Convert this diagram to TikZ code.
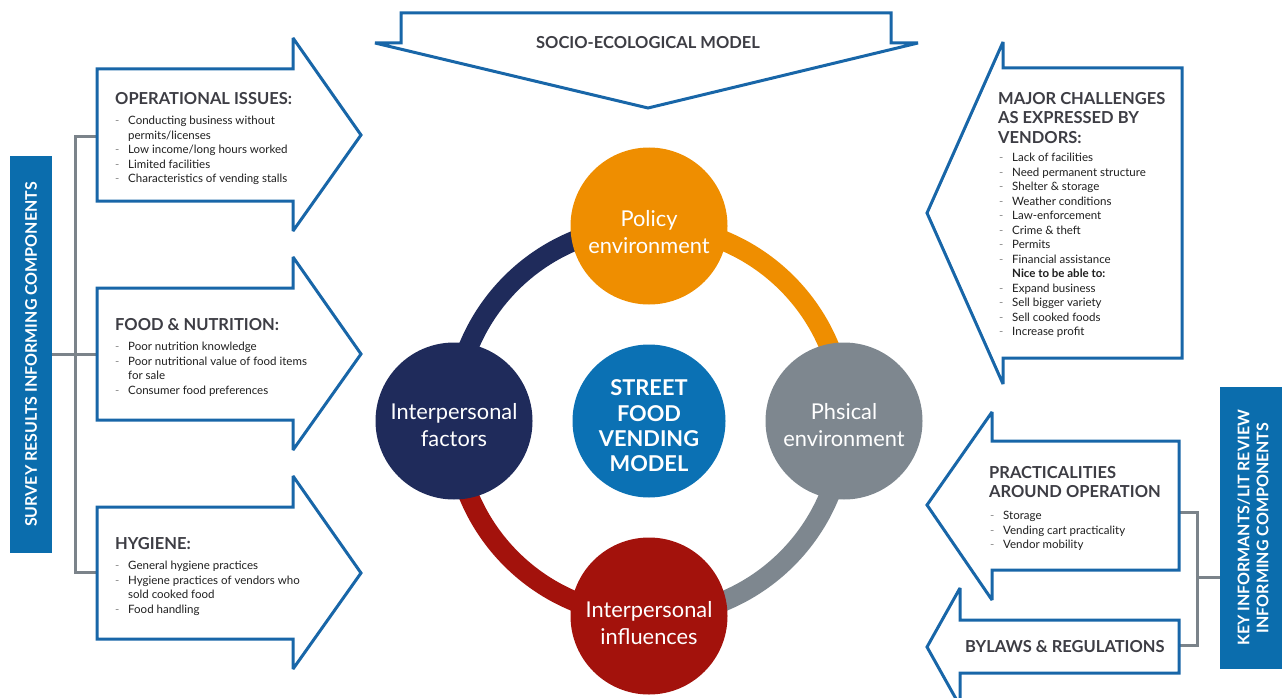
\documentclass[tikz,border=0pt]{standalone}
\usepackage{fontspec}
\setmainfont{Lato}

\definecolor{frameblue}{HTML}{1866A8}
\definecolor{barblue}{HTML}{0B6DAD}
\definecolor{hubblue}{HTML}{0B71B4}
\definecolor{policyorange}{HTML}{EF8E00}
\definecolor{factorsnavy}{HTML}{1F2B5B}
\definecolor{physgray}{HTML}{7E878F}
\definecolor{influred}{HTML}{A3120C}
\definecolor{inkgray}{HTML}{3D3D44}
\definecolor{linkgray}{HTML}{7B838A}

% list lines: a dash, then the text column
\newcommand\vitem{\makebox[13pt][l]{\textcolor{black!45}{-}}}
\newcommand\vcont{\hspace*{13pt}}

\begin{document}
\begin{tikzpicture}[
  x=1pt, y=-1pt,
  callout/.style={draw=frameblue, line width=3pt, fill=white, line join=miter, miter limit=3},
  heading/.style={anchor=north west, inner sep=0, text=inkgray, align=left,
    font=\fontsize{16.5}{19.5}\selectfont\bfseries},
  items/.style={anchor=north west, inner sep=0, text=black!88, align=left,
    font=\fontsize{11.5}{14.5}\selectfont},
  sphere/.style={circle, minimum size=157, inner sep=0},
  spheretext/.style={text=white, align=center, inner sep=0,
    font=\fontsize{21.8}{27}\selectfont},
  ring/.style={line width=20pt},
  bracket/.style={draw=linkgray, line width=3pt},
  sidebar/.style={rotate=90, fill=barblue, text=white, inner sep=0, align=center,
    font=\fontsize{16}{19}\selectfont\bfseries}
]
  \useasboundingbox (0,0) rectangle (1282,698);

  % Side bars
  \node[sidebar, minimum width=397, minimum height=42] (survey) at (31,354.5)
    {SURVEY RESULTS INFORMING COMPONENTS};
  \node[sidebar, minimum width=282, minimum height=66] (keyinf) at (1253,528)
    {KEY INFORMANTS/LIT REVIEW\\INFORMING COMPONENTS};

  % Left bracket: survey bar to the three arrows
  \coordinate (opsIn) at (97,137);
  \coordinate (nutIn) at (97,354);
  \coordinate (hygIn) at (97,572);
  \draw[bracket] (opsIn) -- (75,137) -- (75,572) -- (hygIn);
  \draw[bracket] (survey.south |- nutIn) -- (nutIn);

  % Right bracket: key informants bar to the two arrows
  \coordinate (pracOut) at (1179,512);
  \coordinate (lawOut) at (1179,645);
  \coordinate (rfork) at (1197,577);
  \draw[bracket] (pracOut) -- (pracOut -| rfork) -- (lawOut -| rfork) -- (lawOut);
  \draw[bracket] (rfork) -- (rfork -| keyinf.north);

  % Top arrow, pointing down into the model
  \draw[callout] (401,13) -- (891,13) -- (891,43) -- (918,43) -- (648,108)
    -- (375,43) -- (401,43) -- cycle;
  \node[text=inkgray, font=\fontsize{16.5}{18}\selectfont\bfseries] (sem) at (648,43)
    {SOCIO-ECOLOGICAL MODEL};

  % Left arrows (same shape, stacked)
  \foreach \dy in {0,219,438}{
    \begin{scope}[shift={(0,\dy)}]
      \draw[callout] (97,69) -- (293,69) -- (293,38) -- (361,135) -- (293,231)
        -- (293,201) -- (97,201) -- cycle;
    \end{scope}
  }

  \node[heading] (opsT) at (115,92) {OPERATIONAL ISSUES:};
  \node[items] (opsL) at (115,116) {\vitem Conducting business without\\
    \vcont permits/licenses\\
    \vitem Low income/long hours worked\\
    \vitem Limited facilities\\
    \vitem Characteristics of vending stalls};

  \node[heading] (nutT) at (115,318) {FOOD \& NUTRITION:};
  \node[items] (nutL) at (115,342) {\vitem Poor nutrition knowledge\\
    \vitem Poor nutritional value of food items\\
    \vcont for sale\\
    \vitem Consumer food preferences};

  \node[heading] (hygT) at (115,537) {HYGIENE:};
  \node[items] (hygL) at (115,561) {\vitem General hygiene practices\\
    \vitem Hygiene practices of vendors who\\
    \vcont sold cooked food\\
    \vitem Food handling};

  % Right arrows, pointing back to the model
  \draw[callout] (1182,68) -- (1003,68) -- (1003,42) -- (927,213) -- (1003,384)
    -- (1003,358) -- (1182,358) -- cycle;
  \draw[callout] (1179,441) -- (992,441) -- (992,412) -- (927,505) -- (992,600)
    -- (992,570) -- (1179,570) -- cycle;
  \draw[callout] (1179,620) -- (960,620) -- (960,588) -- (927,647) -- (960,706)
    -- (960,673) -- (1179,673) -- cycle;

  \node[heading] (chalT) at (998,92) {MAJOR CHALLENGES\\AS EXPRESSED BY\\VENDORS:};
  \node[items] (chalL) at (999,153) {\vitem Lack of facilities\\
    \vitem Need permanent structure\\
    \vitem Shelter \& storage\\
    \vitem Weather conditions\\
    \vitem Law-enforcement\\
    \vitem Crime \& theft\\
    \vitem Permits\\
    \vitem Financial assistance\\
    \vcont\textbf{Nice to be able to:}\\
    \vitem Expand business\\
    \vitem Sell bigger variety\\
    \vitem Sell cooked foods\\
    \vitem Increase profit};

  \node[heading] (pracT) at (989,466) {PRACTICALITIES\\AROUND OPERATION};
  \node[items] (pracL) at (990,511) {\vitem Storage\\
    \vitem Vending cart practicality\\
    \vitem Vendor mobility};

  \node[heading, anchor=west] (lawT) at (965,647) {BYLAWS \& REGULATIONS};

  % Ring around the hub, one colour per quarter
  \coordinate (hub) at (649,421);
  \coordinate (pol) at (649,226);
  \coordinate (fac) at (454,421);
  \coordinate (phy) at (844,421);
  \coordinate (inf) at (649,616);
  \draw[ring, factorsnavy] (fac) arc[start angle=180, end angle=270, radius=195];
  \draw[ring, policyorange] (pol) arc[start angle=270, end angle=360, radius=195];
  \draw[ring, physgray] (phy) arc[start angle=0, end angle=90, radius=195];
  \draw[ring, influred] (inf) arc[start angle=90, end angle=180, radius=195];

  % The four circles and the hub, text set a little below centre
  \node[sphere, fill=policyorange] (policy) at (pol) {};
  \node[sphere, fill=factorsnavy] (factors) at (fac) {};
  \node[sphere, fill=physgray] (physical) at (phy) {};
  \node[sphere, fill=influred] (influences) at (inf) {};
  \node[circle, fill=hubblue, minimum size=153, inner sep=0] (sfvm) at (hub) {};

  \node[spheretext] (policyTxt) at ([yshift=-6pt]policy.center) {Policy\\environment};
  \node[spheretext] (factorsTxt) at ([yshift=-4pt]factors.center) {Interpersonal\\factors};
  \node[spheretext] (physicalTxt) at ([yshift=-4pt]physical.center) {Phsical\\environment};
  \node[spheretext] (influencesTxt) at ([yshift=-7pt]influences.center)
    {Interpersonal\\influences};
  \node[spheretext, font=\fontsize{21.8}{25.3}\selectfont\bfseries] (sfvmTxt)
    at ([yshift=-5pt]sfvm.center) {STREET\\FOOD\\VENDING\\MODEL};

\end{tikzpicture}
\end{document}
